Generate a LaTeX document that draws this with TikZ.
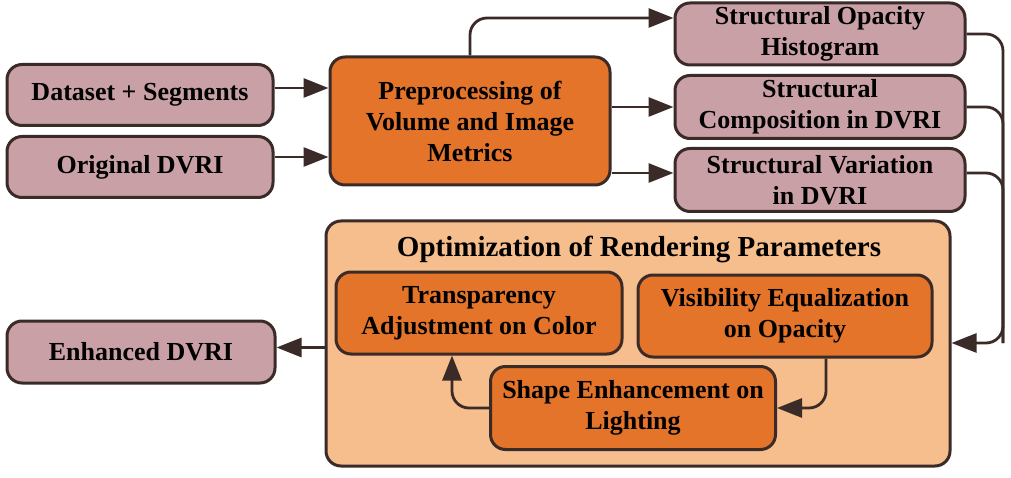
\documentclass[tikz,border=0pt]{standalone}
\usepackage{fontspec}
\setmainfont{Liberation Serif}
\usetikzlibrary{arrows.meta}

\definecolor{edgecol}{HTML}{3A2A28}
\definecolor{pinkfill}{HTML}{C9A0A6}
\definecolor{orangefill}{HTML}{E3742A}
\definecolor{lightfill}{HTML}{F5BE8C}

\begin{document}
\begin{tikzpicture}[x=1pt, y=-1pt,
    every node/.style={font=\fontsize{26}{31}\selectfont\bfseries, align=center, inner sep=0pt},
    inbox/.style={draw=edgecol, line width=3pt, fill=pinkfill, rounded corners=15pt,
        minimum width=266pt, minimum height=61pt},
    procbox/.style={draw=edgecol, line width=3pt, fill=orangefill, rounded corners=15pt},
    optbox/.style={draw=edgecol, line width=3pt, fill=lightfill, rounded corners=15pt},
    flow/.style={draw=edgecol, line width=2.8pt, rounded corners=17pt,
        -{Triangle[length=25pt, width=19pt]}},
    link/.style={draw=edgecol, line width=2.8pt, rounded corners=17pt}]

    \useasboundingbox (0,0) rectangle (1011,478);

    % Inputs on the left
    \node[inbox] (data) at (140,95) {Dataset + Segments};
    \node[inbox] (orig) at (140,167) {Original DVRI};

    % Preprocessing step
    \node[procbox, minimum width=280pt, minimum height=128pt] (prep) at (470,121)
        {Preprocessing of\\Volume and Image\\Metrics};

    % Structural outputs on the right
    \node[inbox, minimum width=290pt, minimum height=62pt] (hist) at (820,34)
        {Structural Opacity\\Histogram};
    \node[inbox, minimum width=290pt, minimum height=63pt] (comp) at (820,107)
        {Structural\\Composition in DVRI};
    \node[inbox, minimum width=290pt, minimum height=63pt] (var) at (820,180)
        {Structural Variation\\in DVRI};

    % Optimization block with its three steps
    \node[optbox, minimum width=624pt, minimum height=245pt] (opt) at (638,343.5) {};
    \node[font=\fontsize{29}{33}\selectfont\bfseries] (opttitle) at (639,249)
        {Optimization of Rendering Parameters};
    \node[procbox, minimum width=286pt, minimum height=82pt] (transp) at (479,313)
        {Transparency\\Adjustment on Color};
    \node[procbox, minimum width=294pt, minimum height=82pt] (visib) at (785,316)
        {Visibility Equalization\\on Opacity};
    \node[procbox, minimum width=285pt, minimum height=83pt] (shape) at (633,408)
        {Shape Enhancement on\\Lighting};

    % Output
    \node[inbox, minimum width=268pt, minimum height=62pt] (enh) at (141,352) {Enhanced DVRI};

    % Inputs into preprocessing
    \draw[flow] ([yshift=7pt]data.east) -- ([yshift=7pt]data.east -| prep.west);
    \draw[flow] ([yshift=10pt]orig.east) -- ([yshift=10pt]orig.east -| prep.west);

    % Preprocessing to structural outputs
    \draw[flow] (prep.north) |- ([yshift=16pt]hist.west);
    \draw[flow] (prep.east |- comp.west) -- (comp.west);
    \draw[flow] ([yshift=7pt]prep.east |- var.west) -- ([yshift=7pt]var.west);

    % Structural outputs joined into the optimization block
    \coordinate (bus) at (1003,343);
    \draw[flow] (hist.east) -| (bus) -- (opt.east |- bus);
    \draw[link] (comp.east) -| (bus);
    \draw[link] ([yshift=7pt]var.east) -| (bus);

    % Loop inside the optimization block
    \draw[flow] ([xshift=41pt]visib.south) |- (shape.east);
    \draw[flow] (shape.west) -| ([xshift=-27pt]transp.south);

    % Optimization to output
    \draw[flow] ([yshift=-4pt]opt.west) -- ([yshift=-4pt]opt.west -| enh.east);

\end{tikzpicture}
\end{document}
